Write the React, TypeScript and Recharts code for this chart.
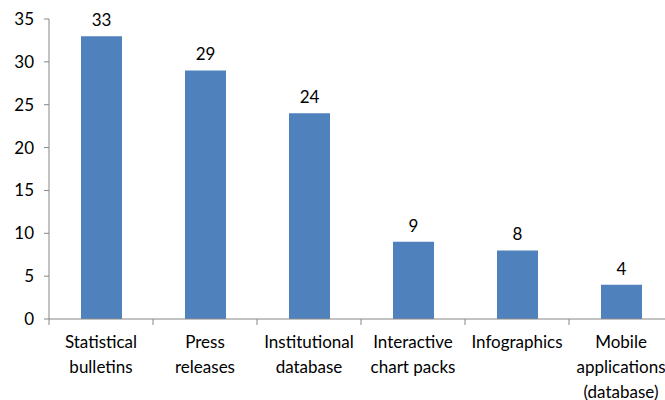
import { BarChart, Bar, XAxis, YAxis, LabelList } from "recharts";

const categories = [
  "Statistical\nbulletins",
  "Press\nreleases",
  "Institutional\ndatabase",
  "Interactive\nchart packs",
  "Infographics",
  "Mobile\napplications\n(database)",
];
const counts = [33, 29, 24, 9, 8, 4];
const yTicks = [0, 5, 10, 15, 20, 25, 30, 35];
// boundaries between categories plus the centre of each category
const xTicks = [0, 0.5, 1, 1.5, 2, 2.5, 3, 3.5, 4, 4.5, 5, 5.5, 6];

const data = categories.map((name, i) => ({ name, value: counts[i], idx: i + 0.5 }));

const FONT = "Lato, 'Noto Sans', sans-serif";
const AXIS = "#868686";

function AxisTick({ x, y, payload }: any) {
  const v = Number(payload.value);
  if (Number.isInteger(v)) {
    return <line x1={x} x2={x} y1={y - 8} y2={y - 2} stroke={AXIS} />;
  }
  const lines = categories[Math.floor(v)].split("\n");
  return (
    <text x={x} y={y} textAnchor="middle" fontFamily={FONT} fontSize={17} fill="#000">
      {lines.map((l, i) => (
        <tspan key={i} x={x} dy={i === 0 ? 21 : 25}>
          {l}
        </tspan>
      ))}
    </text>
  );
}

export default function App() {
  return (
    <div style={{ position: "fixed", left: 0, top: 0, width: 665, height: 400, overflow: "hidden", background: "#fff" }}>
      <BarChart width={700} height={400} data={data} margin={{ top: 19, right: 27, bottom: 0, left: 0 }}>
        <XAxis dataKey="name" hide height={0} />
        <XAxis
          xAxisId="grid"
          dataKey="idx"
          type="number"
          domain={[0, 6]}
          allowDataOverflow
          ticks={xTicks}
          interval={0}
          tickLine={false}
          tickSize={6}
          tickMargin={2}
          tick={<AxisTick />}
          height={81}
          stroke={AXIS}
        />
        <YAxis
          width={49}
          domain={[0, 35]}
          ticks={yTicks}
          interval={0}
          tickSize={5}
          tickMargin={10}
          stroke={AXIS}
          tick={{ fill: "#000", fontSize: 17, fontFamily: FONT }}
        />
        <Bar dataKey="value" fill="#4F81BD" barSize={41} isAnimationActive={false}>
          <LabelList dataKey="value" position="top" offset={10} fill="#000" fontSize={17} fontFamily={FONT} />
        </Bar>
      </BarChart>
    </div>
  );
}
